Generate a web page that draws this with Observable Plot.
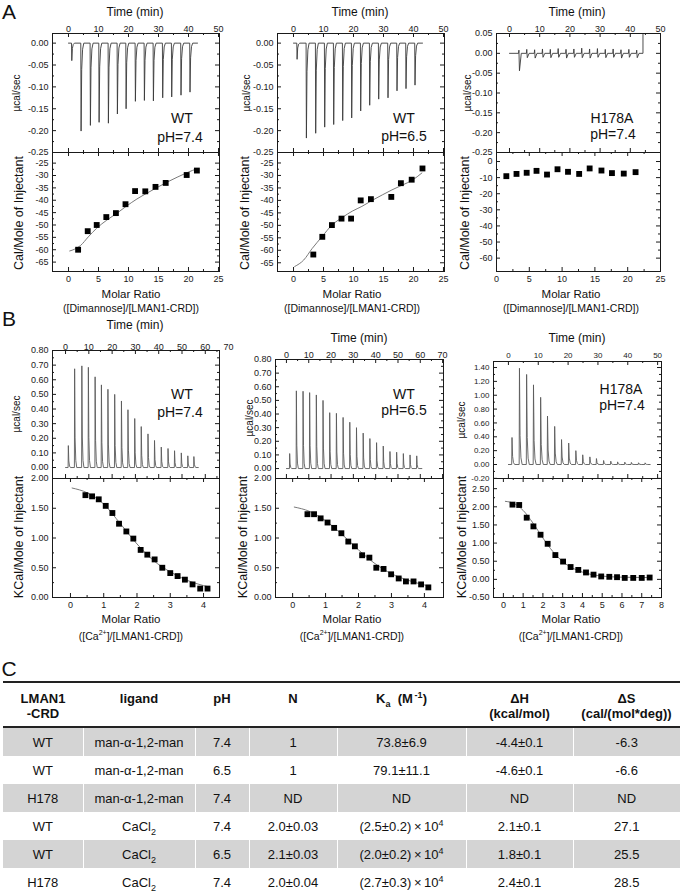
<!DOCTYPE html>
<html><head><meta charset="utf-8">
<script src="https://cdn.jsdelivr.net/npm/d3@7"></script>
<script src="https://cdn.jsdelivr.net/npm/@observablehq/plot@0.6"></script>
<style>
body{margin:0;background:#fff;font-family:"Liberation Sans",Arial,sans-serif;color:#111;}
#fig{position:relative;width:683px;height:895px;overflow:hidden;background:#fff;}
.t{position:absolute;white-space:nowrap;transform:translate(-50%,-50%);line-height:1;color:#111;}
.r{transform:translate(-50%,-50%) rotate(-90deg);}
#tbl{position:absolute;left:3px;top:681px;width:677px;border-collapse:collapse;table-layout:fixed;font-size:13px;color:#111;}
#tbl th{font-weight:bold;height:28px;vertical-align:top;padding:8px 0 5px 0;line-height:15px;border-top:2px solid #222;border-bottom:2px solid #222;text-align:center;}
#tbl th.h{height:30px;}
#tbl td{height:28px;padding:0;text-align:center;vertical-align:middle;line-height:15px;}
#tbl tr.g td{background:#d4d4d4;}
#tbl td+td{border-left:1px solid #fff;}
#tbl tr:last-child td{border-bottom:2px solid #222;}
#tbl sup,#tbl sub{font-size:9px;line-height:0;}
</style></head><body><div id="fig"></div><script>
// ---------- Panel A (dimannose) ----------
const a1InjTime = [1.0, 4.1, 7.2, 10.1, 13.2, 16.2, 19.1, 22.2, 25.2, 28.2, 31.3, 34.3, 37.4, 40.4];
const a1InjPeak = [-0.040, -0.201, -0.188, -0.181, -0.183, -0.162, -0.150, -0.133, -0.131, -0.132, -0.125, -0.123, -0.119, -0.112];
const a1Ratio = [1.6, 3.2, 4.7, 6.3, 7.9, 9.5, 11.1, 12.8, 14.5, 16.2, 19.7, 21.4];
const a1Heat = [-60.0, -52.5, -50.0, -46.8, -45.2, -41.6, -36.3, -36.4, -34.6, -33.0, -29.8, -28.0];
const a1FitRatio = [0.2, 1.0, 2.0, 3.3, 4.7, 6.4, 8.1, 9.7, 11.4, 13.1, 14.8, 16.5, 18.1, 19.8, 21.5];
const a1FitHeat = [-60.5, -59.8, -58.3, -54.8, -51.3, -48.0, -45.2, -42.3, -39.5, -37.1, -34.8, -32.6, -30.7, -28.8, -27.2];

const a2InjTime = [1.1, 4.2, 7.3, 10.3, 13.3, 16.3, 19.3, 22.3, 25.3, 28.3, 31.4, 34.4, 37.4, 40.4];
const a2InjPeak = [-0.037, -0.217, -0.206, -0.192, -0.186, -0.177, -0.171, -0.155, -0.142, -0.128, -0.125, -0.109, -0.104, -0.096];
const a2Ratio = [3.3, 4.8, 6.4, 8.0, 9.6, 11.2, 12.9, 16.3, 17.9, 19.7, 21.5];
const a2Heat = [-61.7, -54.6, -49.9, -47.3, -47.3, -40.0, -39.5, -38.6, -33.1, -31.7, -27.2];
const a2FitRatio = [0.2, 1.7, 3.1, 4.8, 6.4, 8.1, 9.8, 11.4, 13.1, 14.8, 16.4, 18.1, 19.8, 21.4];
const a2FitHeat = [-66.5, -63.9, -59.3, -54.4, -49.9, -46.9, -44.3, -42.4, -40.0, -37.8, -35.8, -33.9, -31.9, -29.0];

const a3InjTime = [3.0, 5.6, 8.2, 10.8, 13.4, 16.0, 18.6, 21.2, 23.8, 26.4, 29.0, 31.6, 34.2, 36.8, 39.4, 42.0];
const a3InjUp = [0.008, 0.010, 0.009, 0.011, 0.010, 0.012, 0.010, 0.011, 0.013, 0.011, 0.012, 0.010, 0.011, 0.009, 0.010, 0.008];
const a3InjDown = [-0.044, -0.011, -0.012, -0.010, -0.011, -0.010, -0.012, -0.010, -0.011, -0.012, -0.010, -0.011, -0.010, -0.012, -0.010, -0.011];
const a3Ratio = [1.5, 3.05, 4.6, 6.1, 7.7, 9.3, 10.9, 12.6, 14.2, 16.0, 17.6, 19.4, 21.2];
const a3Heat = [-9.1, -7.7, -7.0, -5.8, -8.1, -4.8, -6.4, -7.7, -4.3, -5.6, -7.2, -7.5, -6.6];

// ---------- Panel B (Ca2+) ----------
const b1InjTime = [1.1, 3.8, 6.9, 9.7, 12.6, 15.3, 18.1, 21.0, 23.9, 26.7, 29.6, 32.4, 35.3, 38.1, 41.0, 43.9, 46.7, 49.6, 52.4, 55.0];
const b1InjPeak = [0.15, 0.675, 0.695, 0.685, 0.62, 0.565, 0.535, 0.50, 0.455, 0.395, 0.335, 0.28, 0.23, 0.185, 0.14, 0.13, 0.115, 0.10, 0.08, 0.075];
const b1Ratio = [0.45, 0.65, 0.85, 1.06, 1.26, 1.46, 1.68, 1.89, 2.11, 2.31, 2.53, 2.76, 3.0, 3.22, 3.44, 3.67, 3.9, 4.12];
const b1Heat = [1.72, 1.70, 1.65, 1.54, 1.42, 1.24, 1.11, 0.99, 0.80, 0.72, 0.64, 0.50, 0.41, 0.36, 0.30, 0.22, 0.15, 0.15];
const b1FitRatio = [0.05, 0.5, 1.0, 1.5, 2.0, 2.5, 3.0, 3.5, 4.0, 4.15];
const b1FitHeat = [1.84, 1.76, 1.57, 1.24, 0.90, 0.62, 0.43, 0.29, 0.20, 0.18];

const b2InjTime = [1.35, 4.35, 7.35, 10.3, 13.3, 16.3, 19.3, 22.3, 25.3, 28.3, 31.3, 34.3, 37.3, 40.3, 43.3, 46.3, 49.3, 52.3, 55.3, 58.3];
const b2InjPeak = [0.11, 0.57, 0.567, 0.557, 0.54, 0.50, 0.41, 0.405, 0.375, 0.34, 0.30, 0.26, 0.22, 0.19, 0.165, 0.125, 0.12, 0.11, 0.10, 0.093];
const b2Ratio = [0.45, 0.65, 0.85, 1.06, 1.26, 1.48, 1.69, 1.89, 2.11, 2.33, 2.54, 2.76, 2.99, 3.22, 3.44, 3.67, 3.9, 4.12];
const b2Heat = [1.40, 1.40, 1.33, 1.26, 1.17, 1.08, 0.94, 0.86, 0.71, 0.67, 0.50, 0.48, 0.39, 0.32, 0.27, 0.27, 0.22, 0.17];
const b2FitRatio = [0.05, 0.5, 1.0, 1.5, 2.0, 2.5, 3.0, 3.5, 4.15];
const b2FitHeat = [1.52, 1.45, 1.29, 1.06, 0.80, 0.57, 0.40, 0.29, 0.19];

const b3InjTime = [1.1, 3.6, 6.0, 8.3, 10.7, 13.0, 15.4, 17.7, 20.1, 22.5, 24.8, 27.2, 29.4, 31.8, 34.2, 36.5, 38.9, 41.1, 43.5, 45.7];
const b3InjPeak = [0.39, 1.39, 1.30, 1.15, 0.97, 0.70, 0.55, 0.36, 0.31, 0.20, 0.14, 0.11, 0.086, 0.058, 0.048, 0.038, 0.034, 0.030, 0.025, 0.024];
const b3Ratio = [0.46, 0.80, 1.18, 1.52, 1.88, 2.24, 2.63, 3.02, 3.40, 3.79, 4.18, 4.56, 4.95, 5.36, 5.75, 6.14, 6.57, 7.0, 7.4];
const b3Heat = [2.06, 2.05, 1.70, 1.46, 1.23, 0.98, 0.67, 0.49, 0.34, 0.26, 0.19, 0.13, 0.08, 0.07, 0.06, 0.04, 0.04, 0.04, 0.05];
const b3FitRatio = [0.1, 0.5, 1.0, 1.5, 2.0, 2.5, 3.0, 3.5, 4.0, 4.5, 5.0, 6.0, 7.4];
const b3FitHeat = [2.15, 2.10, 1.90, 1.55, 1.14, 0.77, 0.49, 0.31, 0.20, 0.13, 0.09, 0.06, 0.05];

// ---------- tick labels ----------
const aTimeTicks = [0, 10, 20, 30, 40, 50];
const aPowerTicks = [0, -0.05, -0.10, -0.15, -0.20, -0.25];
const a3PowerTicks = [0.05, 0, -0.05, -0.10, -0.15, -0.20, -0.25];
const aRatioTicks = [0, 5, 10, 15, 20, 25];
const aHeatTicks = [-25, -30, -35, -40, -45, -50, -55, -60, -65];
const a3HeatTicks = [0, -10, -20, -30, -40, -50, -60];
const b12TimeTicks = [0, 10, 20, 30, 40, 50, 60, 70];
const b3TimeTicks = [0, 10, 20, 30, 40, 50];
const b12PowerTicks = [0, 0.10, 0.20, 0.30, 0.40, 0.50, 0.60, 0.70, 0.80];
const b3PowerTicks = [-0.20, 0, 0.20, 0.40, 0.60, 0.80, 1.00, 1.20, 1.40];
const b12HeatTicks = [0, 0.5, 1.0, 1.5, 2.0];
const b3HeatTicks = [-0.5, 0, 0.5, 1.0, 1.5, 2.0, 2.5];
const b12RatioTicks = [0, 1, 2, 3, 4];
const b3RatioTicks = [0, 1, 2, 3, 4, 5, 6, 7, 8];

// ---------- table ----------
const tHead = ["LMAN1<br>-CRD", "ligand", "pH", "N", "K<sub>a</sub>&nbsp;&nbsp;(M<sup>&thinsp;-1</sup>)", "&Delta;H<br>(kcal/mol)", "&Delta;S<br>(cal/(mol*deg))"];
const tProtein = ["WT", "WT", "H178", "WT", "WT", "H178"];
const tLigand = ["man-&alpha;-1,2-man", "man-&alpha;-1,2-man", "man-&alpha;-1,2-man", "CaCl<sub>2</sub>", "CaCl<sub>2</sub>", "CaCl<sub>2</sub>"];
const tPH = ["7.4", "6.5", "7.4", "7.4", "6.5", "7.4"];
const tN = ["1", "1", "ND", "2.0&plusmn;0.03", "2.1&plusmn;0.03", "2.0&plusmn;0.04"];
const tKa = ["73.8&plusmn;6.9", "79.1&plusmn;11.1", "ND", "(2.5&plusmn;0.2)&thinsp;&times;&thinsp;10<sup>4</sup>", "(2.0&plusmn;0.2)&thinsp;&times;&thinsp;10<sup>4</sup>", "(2.7&plusmn;0.3)&thinsp;&times;&thinsp;10<sup>4</sup>"];
const tDH = ["-4.4&plusmn;0.1", "-4.6&plusmn;0.1", "ND", "2.1&plusmn;0.1", "1.8&plusmn;0.1", "2.4&plusmn;0.1"];
const tDS = ["-6.3", "-6.6", "ND", "27.1", "25.5", "28.5"];

// ================= drawing =================
const fig = document.getElementById("fig");
const FONT = "'Liberation Sans', Arial, sans-serif";
const INK = "#1a1a1a";

function label(html, x, y, size, rotate = false, weight = null) {
  const d = document.createElement("div");
  d.className = "t" + (rotate ? " r" : "");
  d.style.left = x + "px"; d.style.top = y + "px"; d.style.fontSize = size + "px";
  if (weight) d.style.fontWeight = weight;
  d.innerHTML = html;
  fig.append(d);
}
const mids = a => a.slice(1).map((v, i) => (v + a[i]) / 2);
const inside = (ticks, dom) => ticks.filter(t => t >= Math.min(...dom) - 1e-9 && t <= Math.max(...dom) + 1e-9);

// thermogram spike trace from injection times and peak heights
function spikeTrace(times, peaks, end) {
  const pts = [{t: 0, v: 0}];
  times.forEach((t, i) => {
    const p = peaks[i];
    pts.push({t, v: 0}, {t: t + 0.1, v: p}, {t: t + 0.3, v: p * 0.3}, {t: t + 0.6, v: p * 0.07}, {t: t + 1.0, v: 0});
  });
  pts.push({t: end, v: 0});
  return pts;
}
function blankTrace(times, ups, downs, end, jump) {
  const pts = [{t: 0, v: 0}];
  times.forEach((t, i) => {
    pts.push({t, v: 0}, {t: t + 0.12, v: ups[i]}, {t: t + 0.3, v: downs[i]}, {t: t + 0.9, v: 0});
  });
  pts.push({t: end, v: 0}, {t: end, v: jump});
  return pts;
}

function panel({L, R, T, B, xDomain, yDomain, xTicks, yTicks, xFmt, yFmt, xSide, xOffset, marks, fs = 9}) {
  const w = R - L, h = B - T;
  const mL = 40, mR = 8, mT = 22, mB = 22;
  const xIn = inside(xTicks, xDomain), yIn = inside(yTicks, yDomain);
  const xMin = inside(mids(xTicks), xDomain), yMin = inside(mids(yTicks), yDomain);
  const tk = [
    Plot.ruleY(yIn, {y: d => d, insetRight: w - 4, stroke: INK}),
    Plot.ruleY(yIn, {y: d => d, insetLeft: w - 4, stroke: INK}),
    Plot.ruleY(yMin, {y: d => d, insetRight: w - 2, stroke: INK}),
    Plot.ruleY(yMin, {y: d => d, insetLeft: w - 2, stroke: INK}),
    Plot.ruleX(xIn, {x: d => d, insetBottom: h - 4, stroke: INK}),
    Plot.ruleX(xIn, {x: d => d, insetTop: h - 4, stroke: INK}),
    Plot.ruleX(xMin, {x: d => d, insetBottom: h - 2, stroke: INK}),
    Plot.ruleX(xMin, {x: d => d, insetTop: h - 2, stroke: INK}),
    Plot.text(yTicks, {y: d => d, text: yFmt, frameAnchor: "left", textAnchor: "end", dx: -4, fontSize: fs, fill: INK})
  ];
  if (xSide) tk.push(Plot.text(xTicks, {x: d => d, text: xFmt, frameAnchor: xSide, dy: xOffset, fontSize: fs, fill: INK}));
  const svg = Plot.plot({
    width: mL + w + mR, height: mT + h + mB,
    marginLeft: mL, marginRight: mR, marginTop: mT, marginBottom: mB,
    x: {domain: xDomain, axis: null}, y: {domain: yDomain, axis: null},
    style: {background: "transparent", overflow: "visible", fontFamily: FONT, color: INK},
    marks: [...marks, Plot.frame({stroke: INK, strokeWidth: 1}), ...tk]
  });
  svg.style.position = "absolute";
  svg.style.left = (L - mL) + "px";
  svg.style.top = (T - mT) + "px";
  fig.append(svg);
}

const f2 = d => d.toFixed(2);
const f0 = d => String(d);
const rows = (xs, ys) => xs.map((x, i) => ({x, y: ys[i]}));

function itc(c) {
  const ratioPts = rows(c.ratio, c.heat);
  panel({L: c.L, R: c.R, T: c.T, B: c.M, xDomain: c.tDom, yDomain: c.pDom,
    xTicks: c.tTicks, yTicks: c.pTicks, xFmt: f0, yFmt: f2, xSide: "top", xOffset: c.tOff, fs: c.tfs || 9,
    marks: [Plot.line(c.trace, {x: "t", y: "v", stroke: c.traceColor, strokeWidth: 0.9, clip: true})]});
  const bm = [];
  if (c.fitRatio) bm.push(Plot.line(rows(c.fitRatio, c.fitHeat), {x: "x", y: "y", stroke: "#7a7a7a", strokeWidth: 1, curve: "monotone-x"}));
  bm.push(Plot.dot(ratioPts, {x: "x", y: "y", symbol: "square", fill: "#000", stroke: "none", r: 3.3}));
  panel({L: c.L, R: c.R, T: c.M, B: c.B, xDomain: c.rDom, yDomain: c.hDom,
    xTicks: c.rTicks, yTicks: c.hTicks, xFmt: f0, yFmt: c.hFmt, xSide: "bottom", xOffset: 10, marks: bm});
}

// ---- Row A ----
itc({L: 52, R: 219, T: 33, M: 152, B: 271, tDom: [-5.33, 50.33], pDom: [-0.25, 0.022], tTicks: aTimeTicks, pTicks: aPowerTicks, tOff: -8,
  trace: spikeTrace(a1InjTime, a1InjPeak, 43), traceColor: "#3a3a3a",
  rDom: [-2.67, 25.17], hDom: [-68.8, -20.7], rTicks: aRatioTicks, hTicks: aHeatTicks, hFmt: f0,
  ratio: a1Ratio, heat: a1Heat, fitRatio: a1FitRatio, fitHeat: a1FitHeat});
itc({L: 277, R: 444, T: 33, M: 152, B: 271, tDom: [-5.33, 50.33], pDom: [-0.25, 0.022], tTicks: aTimeTicks, pTicks: aPowerTicks, tOff: -8,
  trace: spikeTrace(a2InjTime, a2InjPeak, 43), traceColor: "#3a3a3a",
  rDom: [-2.67, 25.17], hDom: [-68.5, -20.8], rTicks: aRatioTicks, hTicks: aHeatTicks, hFmt: f0,
  ratio: a2Ratio, heat: a2Heat, fitRatio: a2FitRatio, fitHeat: a2FitHeat});
itc({L: 496, R: 660, T: 33, M: 152, B: 271, tDom: [-4.3, 50], pDom: [-0.25, 0.05], tTicks: aTimeTicks, pTicks: a3PowerTicks, tOff: -8,
  trace: blankTrace(a3InjTime, a3InjUp, a3InjDown, 44.2, 0.08), traceColor: "#3a3a3a",
  rDom: [0, 25], hDom: [-68.3, 5.6], rTicks: aRatioTicks, hTicks: a3HeatTicks, hFmt: f0,
  ratio: a3Ratio, heat: a3Heat});

// ---- Row B ----
itc({L: 52, R: 219, T: 350, M: 478, B: 597, tDom: [-5.6, 66.1], pDom: [-0.075, 0.80], tTicks: b12TimeTicks, pTicks: b12PowerTicks, tOff: -7,
  trace: spikeTrace(b1InjTime, b1InjPeak, 57), traceColor: "#5a5a5a",
  rDom: [-0.54, 4.48], hDom: [0, 2.0], rTicks: b12RatioTicks, hTicks: b12HeatTicks, hFmt: f2,
  ratio: b1Ratio, heat: b1Heat, fitRatio: b1FitRatio, fitHeat: b1FitHeat});
itc({L: 275, R: 443, T: 359, M: 478, B: 597, tDom: [-4.9, 70.4], pDom: [-0.073, 0.80], tTicks: b12TimeTicks, pTicks: b12PowerTicks, tOff: -8,
  trace: spikeTrace(b2InjTime, b2InjPeak, 60.7), traceColor: "#5a5a5a",
  rDom: [-0.52, 4.58], hDom: [0, 2.0], rTicks: b12RatioTicks, hTicks: b12HeatTicks, hFmt: f2,
  ratio: b2Ratio, heat: b2Heat, fitRatio: b2FitRatio, fitHeat: b2FitHeat});
itc({L: 493, R: 661, T: 361, M: 478, B: 597, tDom: [-5.0, 51.3], pDom: [-0.202, 1.487], tTicks: b3TimeTicks, pTicks: b3PowerTicks, tOff: -9, tfs: 8,
  trace: spikeTrace(b3InjTime, b3InjPeak, 47.5), traceColor: "#5a5a5a",
  rDom: [-0.5, 8], hDom: [-0.5, 2.78], rTicks: b3RatioTicks, hTicks: b3HeatTicks, hFmt: f2,
  ratio: b3Ratio, heat: b3Heat, fitRatio: b3FitRatio, fitHeat: b3FitHeat});

// ---- text labels ----
label("A", 9, 11, 21);
label("B", 9, 318, 21);
label("C", 9, 668, 21);
[[135, 12], [360, 12], [577, 12], [135, 325], [359, 338], [577, 338]].forEach(([x, y]) => label("Time (min)", x, y, 12));
[[17, 93], [247, 93], [468, 93], [17, 414], [250, 418], [462, 420]].forEach(([x, y]) => label("&micro;cal/sec", x, y, 10, true));
[[19, 213], [245, 213], [465, 213]].forEach(([x, y]) => label("Cal/Mole of Injectant", x, y, 12.5, true));
[[19, 537], [243, 537], [462, 537]].forEach(([x, y]) => label("KCal/Mole of Injectant", x, y, 12.5, true));
label("WT", 182, 118, 14); label("pH=7.4", 180, 137, 14);
label("WT", 404, 118, 14); label("pH=6.5", 404, 136, 14);
label("H178A", 612, 118, 14); label("pH=7.4", 613, 134, 14);
label("WT", 182, 394, 14); label("pH=7.4", 180, 412, 14);
label("WT", 404, 394, 14); label("pH=6.5", 404, 410, 14);
label("H178A", 621, 389, 14); label("pH=7.4", 622, 405, 14);
[131, 352, 571].forEach(x => {
  label("Molar Ratio", x, 295, 11.5);
  label("([Dimannose]/[LMAN1-CRD])", x, 308, 10.5);
  label("Molar Ratio", x, 620, 11.5);
  label("([Ca<sup style='font-size:7px'>2+</sup>]/[LMAN1-CRD])", x, 635, 10.5);
});

// ---- table ----
const widths = [80, 112, 54, 88, 129, 107, 107];
let html = "<table id='tbl'><colgroup>" + widths.map(w => `<col style="width:${w}px">`).join("") + "</colgroup><tr>" +
  tHead.map(h => `<th class="h">${h}</th>`).join("") + "</tr>";
tProtein.forEach((p, i) => {
  html += `<tr class="${i % 2 === 0 ? "g" : ""}"><td>${p}</td><td>${tLigand[i]}</td><td>${tPH[i]}</td><td>${tN[i]}</td><td>${tKa[i]}</td><td>${tDH[i]}</td><td>${tDS[i]}</td></tr>`;
});
html += "</table>";
fig.insertAdjacentHTML("beforeend", html);
</script></body></html>
